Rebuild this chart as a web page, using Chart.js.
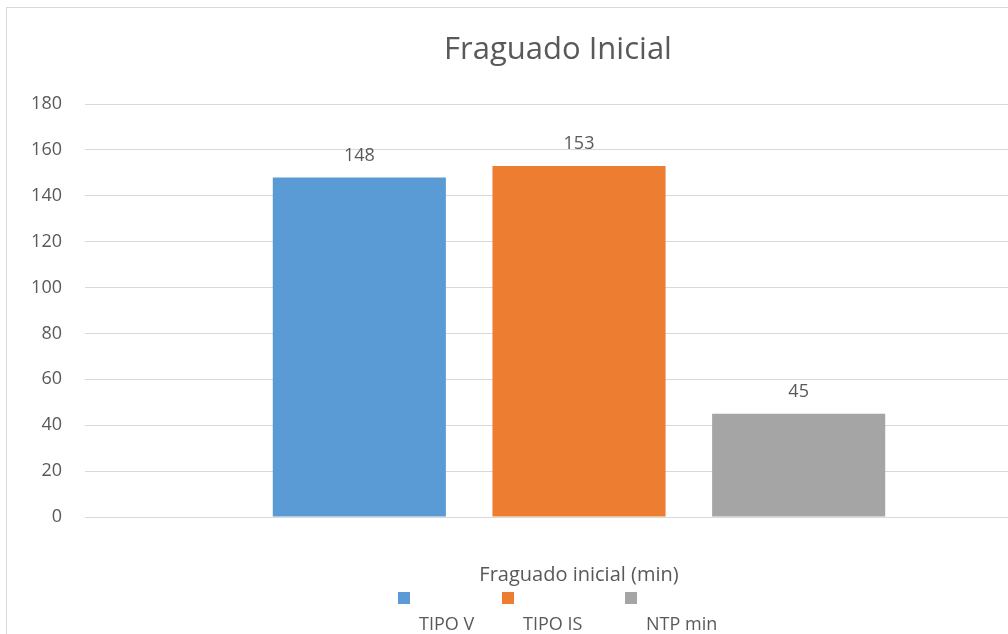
<!DOCTYPE html>
<html>
<head>
<meta charset="utf-8">
<script src="https://cdn.jsdelivr.net/npm/chart.js@4.4.1/dist/chart.umd.min.js"></script>
<style>
  html, body { margin: 0; padding: 0; background: #fff; overflow: hidden; width: 1008px; height: 634px; }
  #frame { position: absolute; left: 6px; top: 7px; width: 1200px; height: 800px;
           border-left: 1px solid #d9d9d9; border-top: 1px solid #d9d9d9; }
  #wrap { position: absolute; left: 0; top: 0; width: 1080px; height: 634px; }
</style>
</head>
<body>
<div id="frame"></div>
<div id="wrap"><canvas id="c" width="1080" height="634"></canvas></div>
<script>
// Chart content
const chartTitle = 'Fraguado Inicial';
const categories = ['Fraguado inicial (min)'];
const seriesNames = ['TIPO V', 'TIPO IS', 'NTP min'];
const tipoV = [148];
const tipoIS = [153];
const ntpMin = [45];
const yTicks = [0, 20, 40, 60, 80, 100, 120, 140, 160, 180];

const colors = ['#5B9BD5', '#ED7D31', '#A5A5A5'];
const textColor = '#595959';
const fontFamily = '"Open Sans", "Liberation Sans", sans-serif';

// Title, value labels and the stacked legend drawn on the canvas
const decorations = {
  id: 'decorations',
  afterDatasetsDraw(chart) {
    const ctx = chart.ctx;
    ctx.save();
    // value labels above each bar
    ctx.fillStyle = textColor;
    ctx.font = '18px ' + fontFamily;
    ctx.textAlign = 'center';
    ctx.textBaseline = 'middle';
    chart.data.datasets.forEach((ds, i) => {
      chart.getDatasetMeta(i).data.forEach((bar, j) => {
        ctx.fillText(String(ds.data[j]), bar.x, bar.y - 22);
      });
    });
    // title
    ctx.font = '31px ' + fontFamily;
    ctx.fillText(chartTitle, 558, 50);
    // legend: swatch on one row, name on the row below
    const xs = [398, 502, 625];
    ctx.font = '18px ' + fontFamily;
    ctx.textAlign = 'left';
    chart.data.datasets.forEach((ds, i) => {
      ctx.fillStyle = ds.backgroundColor;
      ctx.fillRect(xs[i], 592, 12, 12);
      ctx.fillStyle = textColor;
      ctx.fillText(ds.label, xs[i] + 21, 625);
    });
    ctx.restore();
  }
};

new Chart(document.getElementById('c'), {
  type: 'bar',
  data: {
    labels: categories,
    datasets: [
      { label: seriesNames[0], data: tipoV, backgroundColor: colors[0] },
      { label: seriesNames[1], data: tipoIS, backgroundColor: colors[1] },
      { label: seriesNames[2], data: ntpMin, backgroundColor: colors[2] }
    ]
  },
  options: {
    responsive: false,
    animation: false,
    devicePixelRatio: 1,
    categoryPercentage: 0.667,
    barPercentage: 0.788,
    layout: { padding: { top: 104, right: 7, bottom: 0, left: 0 } },
    plugins: {
      legend: { display: false },
      title: { display: false },
      tooltip: { enabled: false }
    },
    scales: {
      x: {
        grid: { display: false, drawTicks: false },
        border: { display: false },
        ticks: { color: textColor, font: { family: fontFamily, size: 20 }, padding: 46 },
        afterFit(scale) { scale.height = 117; }
      },
      y: {
        min: 0,
        max: 180,
        afterBuildTicks(scale) { scale.ticks = yTicks.map(v => ({ value: v })); },
        grid: { color: '#d9d9d9', lineWidth: 1, drawTicks: false },
        border: { display: false },
        ticks: { color: textColor, font: { family: fontFamily, size: 18 }, padding: 23 },
        afterFit(scale) { scale.width = 85; }
      }
    }
  },
  plugins: [decorations]
});
</script>
</body>
</html>
